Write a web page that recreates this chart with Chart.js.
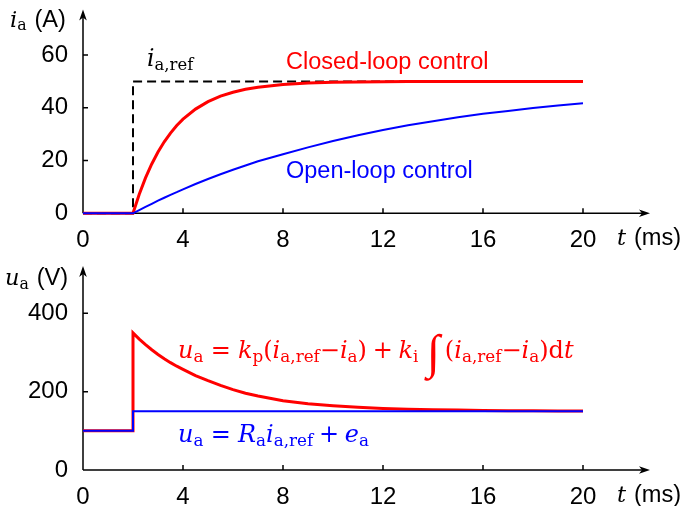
<!DOCTYPE html>
<html>
<head>
<meta charset="utf-8">
<script src="https://cdn.jsdelivr.net/npm/chart.js@4.4.0/dist/chart.umd.min.js"></script>
<style>
    html, body { margin: 0; padding: 0; background: #fff; }
    #wrap { position: relative; width: 682px; height: 506px; }
    canvas { position: absolute; left: 0; }
    #current-chart { top: 0; }
    #voltage-chart { top: 253px; }
</style>
</head>
<body>
<div id="wrap">
    <canvas id="current-chart" width="682" height="253"></canvas>
    <canvas id="voltage-chart" width="682" height="253"></canvas>
</div>
<script>
// values (t in ms)
const currentTimes = [0, 2, 2.25, 2.5, 2.75, 3, 3.25, 3.5, 3.75, 4, 4.5, 5, 5.5, 6, 6.5, 7,
    8, 9, 10, 11, 12, 13, 14, 15, 16, 17, 18, 19, 20];
const closedLoopCurrent = [0, 0, 7.2, 13.4, 18.7, 23.2, 27.1, 30.4, 33.3, 35.7, 39.5, 42.3, 44.4, 45.9, 47.0, 47.8,
    48.8, 49.4, 49.7, 49.8, 49.9, 49.95, 49.97, 49.98, 49.99, 50, 50, 50, 50];
const openLoopCurrent = [0, 0, 1.2, 2.4, 3.6, 4.8, 5.9, 7.0, 8.0, 9.1, 11.1, 13.0, 14.8, 16.5, 18.1, 19.7,
    22.4, 25.0, 27.4, 29.6, 31.6, 33.4, 34.9, 36.4, 37.7, 38.8, 39.9, 40.9, 41.7];
const refTimes = [0, 2, 2, 20];
const refCurrent = [0, 0, 50, 50];

const voltageTimes = [0, 2, 2, 2.25, 2.5, 2.75, 3, 3.25, 3.5, 3.75, 4, 4.5, 5, 5.5, 6, 6.5, 7,
    8, 9, 10, 11, 12, 13, 14, 15, 16, 17, 18, 19, 20];
const closedLoopVoltage = [100, 100, 350, 334, 320, 307, 295, 284, 274, 265, 257, 241, 228, 216, 205, 196, 189,
    177, 169, 164, 160, 157, 155, 154, 153, 152, 151, 151, 150.5, 150.5];
const openLoopVoltageTimes = [0, 2, 2, 20];
const openLoopVoltage = [100, 100, 150, 150];

const timeTicks = [0, 4, 8, 12, 16, 20];
const currentTicks = [0, 20, 40, 60];
const voltageTicks = [0, 200, 400];

const RED = '#ff0000';
const BLUE = '#0000ff';
const SANS = '"Liberation Sans", Arial, sans-serif';
const SERIF = '"DejaVu Serif", serif';

function points(xs, ys) {
    return xs.map((x, i) => ({ x, y: ys[i] }));
}

// draws a run list: [text, kind]; kinds: i italic, r roman, s subscript, sans, gap (em), int
function drawRuns(ctx, x, y, runs, color, size) {
    ctx.save();
    ctx.fillStyle = color;
    ctx.textBaseline = 'alphabetic';
    ctx.textAlign = 'left';
    let cx = x;
    for (const [text, kind] of runs) {
        let dy = 0;
        if (kind === 'gap') {
            cx += size * text;
            continue;
        }
        if (kind === 'i') ctx.font = `italic ${size}px ${SERIF}`;
        else if (kind === 'r') ctx.font = `${size}px ${SERIF}`;
        else if (kind === 's') { ctx.font = `${size * 0.7}px ${SERIF}`; dy = size * 0.17; }
        else if (kind === 'sans') ctx.font = `${size * 1.05}px ${SANS}`;
        else if (kind === 'int') { ctx.font = `italic ${size * 2.0}px "Liberation Serif", serif`; dy = size * 0.42; }
        ctx.fillText(text, cx, y + dy);
        cx += ctx.measureText(text).width;
    }
    ctx.restore();
}

const arrowAxes = {
    id: 'arrowAxes',
    beforeDatasetsDraw(chart, args, opts) {
        const { ctx } = chart;
        const xs = chart.scales.x;
        const ys = chart.scales.y;
        const x0 = xs.getPixelForValue(0);
        const y0 = ys.getPixelForValue(0);
        ctx.save();
        ctx.strokeStyle = '#000';
        ctx.fillStyle = '#000';
        ctx.lineWidth = 1.5;
        ctx.beginPath();
        ctx.moveTo(x0, y0);
        ctx.lineTo(opts.xTip - 6, y0);
        ctx.moveTo(x0, y0);
        ctx.lineTo(x0, opts.yTip + 6);
        timeTicks.forEach(v => {
            if (v === 0) return;
            const px = xs.getPixelForValue(v);
            ctx.moveTo(px, y0);
            ctx.lineTo(px, y0 - 5);
        });
        opts.yTicks.forEach(v => {
            if (v === 0) return;
            const py = ys.getPixelForValue(v);
            ctx.moveTo(x0, py);
            ctx.lineTo(x0 + 5, py);
        });
        ctx.stroke();

        ctx.beginPath();
        ctx.moveTo(opts.xTip, y0);
        ctx.lineTo(opts.xTip - 11, y0 - 3.8);
        ctx.lineTo(opts.xTip - 8, y0);
        ctx.lineTo(opts.xTip - 11, y0 + 3.8);
        ctx.closePath();
        ctx.moveTo(x0, opts.yTip);
        ctx.lineTo(x0 - 3.8, opts.yTip + 11);
        ctx.lineTo(x0, opts.yTip + 8);
        ctx.lineTo(x0 + 3.8, opts.yTip + 11);
        ctx.closePath();
        ctx.fill();
        ctx.restore();
    }
};

const annotations = {
    id: 'annotations',
    afterDraw(chart, args, opts) {
        opts.draw(chart.ctx);
    }
};

function makeOptions(yMax, yTicks, top, xHeight, xTip, yTip, draw) {
    return {
        responsive: false,
        animation: false,
        layout: { padding: { top: top, right: 99, bottom: 0, left: 0 } },
        plugins: {
            legend: { display: false },
            tooltip: { enabled: false },
            arrowAxes: { xTip, yTip, yTicks },
            annotations: { draw }
        },
        elements: { point: { radius: 0 }, line: { tension: 0 } },
        scales: {
            x: {
                type: 'linear',
                min: 0,
                max: 20,
                grid: { display: false },
                border: { display: false },
                afterBuildTicks: scale => { scale.ticks = timeTicks.map(v => ({ value: v })); },
                afterFit: scale => { scale.height = xHeight; },
                ticks: { color: '#000', padding: 5, maxRotation: 0, autoSkip: false, font: { family: SANS, size: 24 } }
            },
            y: {
                type: 'linear',
                min: 0,
                max: yMax,
                grid: { display: false },
                border: { display: false },
                afterBuildTicks: scale => { scale.ticks = yTicks.map(v => ({ value: v })); },
                afterFit: scale => { scale.width = 83; },
                ticks: { color: '#000', padding: 7, font: { family: SANS, size: 24 } }
            }
        }
    };
}

function drawCurrentText(ctx) {
    drawRuns(ctx, 10, 26.5, [['i', 'i'], ['a', 's'], [0.35, 'gap'], ['(A)', 'sans']], '#000', 22.5);
    drawRuns(ctx, 147, 66, [['i', 'i'], ['a,ref', 's']], '#000', 23.5);
    drawRuns(ctx, 617, 245, [['t', 'i'], [0.35, 'gap'], ['(ms)', 'sans']], '#000', 22.5);
    ctx.save();
    ctx.font = `23.5px ${SANS}`;
    ctx.fillStyle = RED;
    ctx.fillText('Closed-loop control', 286, 69);
    ctx.fillStyle = BLUE;
    ctx.fillText('Open-loop control', 286, 178);
    ctx.restore();
}

function drawVoltageText(ctx) {
    drawRuns(ctx, 5, 32, [['u', 'i'], ['a', 's'], [0.35, 'gap'], ['(V)', 'sans']], '#000', 22.5);
    drawRuns(ctx, 617, 249, [['t', 'i'], [0.35, 'gap'], ['(ms)', 'sans']], '#000', 22.5);
    drawRuns(ctx, 178, 105, [
        ['u', 'i'], ['a', 's'], [0.3, 'gap'], ['=', 'r'], [0.3, 'gap'],
        ['k', 'i'], ['p', 's'], ['(', 'r'], ['i', 'i'], ['a,ref', 's'], ['\u2212', 'r'], ['i', 'i'], ['a', 's'], [')', 'r'],
        [0.24, 'gap'], ['+', 'r'], [0.24, 'gap'], ['k', 'i'], ['i', 's'], [0.35, 'gap'],
        ['\u222B', 'int'], [0.2, 'gap'], ['(', 'r'], ['i', 'i'], ['a,ref', 's'], ['\u2212', 'r'], ['i', 'i'], ['a', 's'], [')', 'r'],
        ['d', 'r'], ['t', 'i']
    ], RED, 24);
    drawRuns(ctx, 178, 189, [
        ['u', 'i'], ['a', 's'], [0.3, 'gap'], ['=', 'r'], [0.3, 'gap'],
        ['R', 'i'], ['a', 's'], ['i', 'i'], ['a,ref', 's'], [0.24, 'gap'], ['+', 'r'], [0.24, 'gap'], ['e', 'i'], ['a', 's']
    ], BLUE, 24);
}

new Chart(document.getElementById('current-chart'), {
    type: 'line',
    data: {
        datasets: [
            { data: points(currentTimes, openLoopCurrent), borderColor: BLUE, borderWidth: 2, clip: false },
            { data: points(currentTimes, closedLoopCurrent), borderColor: RED, borderWidth: 3, clip: false },
            { data: points(refTimes, refCurrent), borderColor: '#000', borderWidth: 2, borderDash: [9, 5], clip: false }
        ]
    },
    options: makeOptions(60, currentTicks, 55, 39.7, 650, 9.5, drawCurrentText),
    plugins: [arrowAxes, annotations]
});

new Chart(document.getElementById('voltage-chart'), {
    type: 'line',
    data: {
        datasets: [
            { data: points(openLoopVoltageTimes, openLoopVoltage), borderColor: BLUE, borderWidth: 2, clip: false },
            { data: points(voltageTimes, closedLoopVoltage), borderColor: RED, borderWidth: 3, clip: false }
        ]
    },
    options: makeOptions(400, voltageTicks, 60.3, 36, 650, 13, drawVoltageText),
    plugins: [arrowAxes, annotations]
});
</script>
</body>
</html>
